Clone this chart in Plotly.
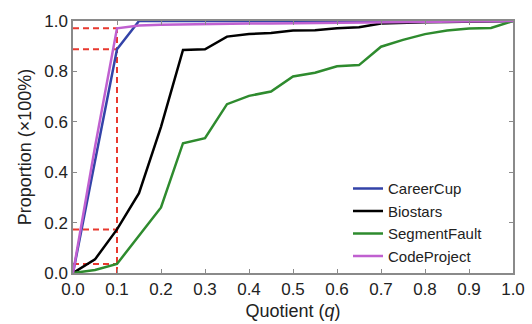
import plotly.graph_objects as go

q = [0.0, 0.05, 0.1, 0.15, 0.2, 0.25, 0.3, 0.35, 0.4, 0.45, 0.5,
     0.55, 0.6, 0.65, 0.7, 0.75, 0.8, 0.85, 0.9, 0.95, 1.0]

careercup = [0.0, 0.44, 0.888, 1.0, 1.0, 1.0, 1.0, 1.0, 1.0, 1.0, 1.0,
             1.0, 1.0, 1.0, 1.0, 1.0, 1.0, 1.0, 1.0, 1.0, 1.0]
biostars = [0.0, 0.054, 0.173, 0.317, 0.58, 0.885, 0.888, 0.938, 0.948, 0.952, 0.962,
            0.963, 0.971, 0.975, 0.99, 0.993, 0.995, 0.996, 0.997, 0.998, 1.0]
segmentfault = [0.0, 0.012, 0.036, 0.148, 0.26, 0.515, 0.535, 0.67, 0.703, 0.72, 0.78,
                0.795, 0.82, 0.825, 0.898, 0.925, 0.948, 0.962, 0.97, 0.972, 1.0]
codeproject = [0.0, 0.5, 0.971, 0.982, 0.985, 0.987, 0.988, 0.989, 0.99, 0.99, 0.991,
               0.992, 0.992, 0.993, 0.994, 0.995, 0.996, 0.997, 0.998, 0.999, 1.0]

series_names = ["CareerCup", "Biostars", "SegmentFault", "CodeProject"]
series_values = [careercup, biostars, segmentfault, codeproject]
series_colors = ["#3343a8", "#000000", "#2e8b2e", "#c060d0"]

x_ticks = [0.0, 0.1, 0.2, 0.3, 0.4, 0.5, 0.6, 0.7, 0.8, 0.9, 1.0]
y_ticks = [0.0, 0.2, 0.4, 0.6, 0.8, 1.0]
q_mark = 0.1
mark_idx = q.index(q_mark)

fig = go.Figure()

# red dashed guide lines at q = 0.1
red = "#e8392f"
mark_vals = [v[mark_idx] for v in series_values]
fig.add_trace(go.Scatter(x=[q_mark, q_mark], y=[0, max(mark_vals)], mode="lines",
                         line=dict(color=red, width=2, dash="6px,4px"),
                         showlegend=False, hoverinfo="skip"))
for mv in mark_vals:
    fig.add_trace(go.Scatter(x=[0, q_mark], y=[mv, mv], mode="lines",
                             line=dict(color=red, width=2, dash="6px,4px"),
                             showlegend=False, hoverinfo="skip"))

for name, vals, col in zip(series_names, series_values, series_colors):
    fig.add_trace(go.Scatter(x=q, y=vals, mode="lines", name=name,
                             line=dict(color=col, width=2.5)))

axis_common = dict(
    showgrid=False, zeroline=False, showline=True, linecolor="#8a8a8a",
    linewidth=1.5, mirror="ticks", ticks="inside", ticklen=4, automargin=False,
    tickcolor="#8a8a8a", tickfont=dict(family="Liberation Sans, Arial", size=17, color="#222"),
)

fig.update_layout(
    width=532, height=324,
    margin=dict(l=73, r=19, t=21, b=51),
    plot_bgcolor="white", paper_bgcolor="white",
    font=dict(family="Liberation Sans, Arial", color="#222"),
    xaxis=dict(range=[0, 1], tickvals=x_ticks, tickformat=".1f",
               title=dict(text="Quotient (<i>q</i>)", font=dict(size=18), standoff=6),
               **axis_common),
    yaxis=dict(range=[0, 1], tickvals=y_ticks, tickformat=".1f",
               title=dict(text="Proportion (×100%)", font=dict(size=18), standoff=8),
               **axis_common),
    legend=dict(x=0.625, y=0.40, xanchor="left", yanchor="top",
                font=dict(size=15, color="#222"), bgcolor="rgba(0,0,0,0)",
                tracegroupgap=0, itemwidth=30),
)

fig.write_html("out.html")
